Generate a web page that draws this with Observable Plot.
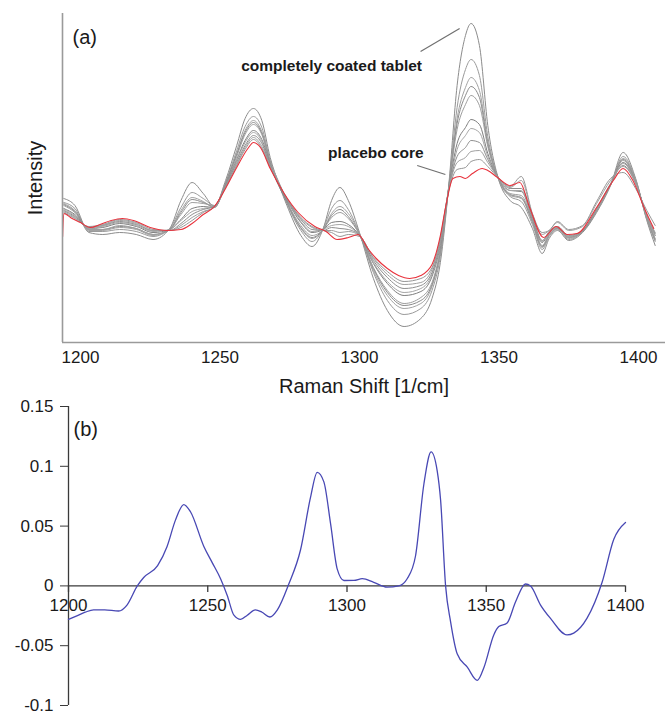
<!DOCTYPE html>
<html><head><meta charset="utf-8">
<script src="https://cdn.jsdelivr.net/npm/d3@7"></script>
<script src="https://cdn.jsdelivr.net/npm/@observablehq/plot@0.6"></script>
<style>body{margin:0;background:#fff} #chart svg{display:block}</style>
</head><body><div id="chart"></div>
<script>
// ---- Panel (a): Raman spectra (arbitrary intensity units) ----
const shiftGrid = [1194,1198,1203,1208,1214,1220,1226,1232,1236,1240,1244,1248,1252,1256,1259,1262,1265,1268,1271,1274,1279,1283,1287,1290,1293,1296,1300,1305,1310,1316,1322,1326,1329,1332,1335,1338,1340,1343,1346,1350,1354,1358,1362,1365.5,1368,1371,1375,1380,1385,1390,1394.5,1399,1403,1406];
const spectrum1 = [152,145,118,116,118,116,111,122,150,168,157,144,170,205,232,242,230,193,167,145,115,104,122,150,163,150,118,72,40,24,32,52,88,165,265,315,327,305,225,170,150,143,122,97,112,120,110,118,138,165,198,172,130,105];
const spectrum2 = [148,142,119,119,121,119,114,122,143,158,152,145,168,200,224,234,223,190,168,147,120,109,122,142,150,141,117,78,50,36,42,60,94,164,243,281,291,275,214,170,154,149,126,101,114,121,111,119,139,165,194,171,131,109];
const spectrum3 = [147,140,120,120,123,121,115,121,140,153,149,143,167,197,220,230,219,189,166,148,122,112,121,137,144,137,117,80,55,42,47,64,98,163,232,263,273,260,209,171,155,152,128,103,115,122,112,119,140,166,192,170,132,110];
const spectrum4 = [146,139,121,121,124,122,116,121,138,151,148,144,167,196,218,228,217,188,167,148,123,113,121,135,141,134,116,82,58,45,50,66,99,163,227,255,264,253,206,171,156,153,129,104,116,122,113,119,140,166,191,169,133,111];
const spectrum5 = [145,138,121,121,125,122,116,121,136,148,147,145,166,194,216,226,216,188,169,149,125,115,121,133,138,132,116,83,60,47,53,68,101,163,221,246,255,245,204,171,157,155,130,105,116,122,113,119,140,166,190,169,133,112];
const spectrum6 = [142,136,122,123,127,124,118,121,131,142,144,143,165,191,210,220,211,186,165,150,128,118,121,128,129,126,115,87,67,55,59,74,105,162,207,223,231,226,197,171,160,159,132,108,118,123,114,120,141,166,188,168,134,115];
const spectrum7 = [141,135,122,124,128,125,119,121,130,139,142,144,164,190,208,218,209,185,167,151,129,119,121,125,126,124,115,88,69,58,62,76,107,161,201,215,222,218,194,171,160,160,133,109,118,123,114,120,141,166,187,168,134,115];
const spectrum8 = [140,134,123,125,129,126,120,120,127,136,141,144,164,188,205,215,207,184,166,151,131,121,120,123,122,121,115,90,73,62,65,78,109,161,194,203,210,208,191,172,162,162,134,110,119,124,115,120,142,167,185,167,135,117];
const spectrum9 = [139,133,123,125,130,127,120,120,125,133,139,143,163,186,203,213,204,184,168,152,132,123,120,120,118,119,115,92,76,66,68,81,111,161,188,193,199,200,188,172,163,170,136,116,120,128,120,124,147,170,184,167,135,118];
const spectrum10 = [138,132,124,126,131,128,121,120,123,130,138,144,163,185,201,211,202,183,167,152,133,124,120,118,114,116,114,93,79,69,72,83,113,160,181,183,189,191,184,172,164,174,137,118,120,129,121,125,149,172,178,162,140,125];

const placeboShift = [1193.6,1194,1197,1200,1203.5,1207,1211,1215,1219,1225,1231,1236,1240,1244,1248,1252,1256,1260,1262,1264.5,1268,1273,1278,1284,1288,1292,1296,1299.5,1303,1306,1310,1314,1318,1322,1326,1329,1331,1333.5,1336,1338,1340.5,1344,1346,1349.5,1354,1357.5,1361,1366,1370.5,1374.5,1378,1385,1391,1394.5,1398,1402,1405.5];
const placeboCore = [114,137,132,128,123,126,130,132,130,123,120,121,127,136,144,162,183,202,208,203,182,157,138,124,119,111,113,116,102,92,82,75,72,75,86,115,145,172,174,172,177,182,180,173,165,168,143,113,124,116,117,143,170,182,170,143,122];

const topTicks = [1200,1250,1300,1350,1400];
const notes = [
  {shift: 1290, intensity: 280, label: "completely coated tablet"},
  {shift: 1305.9, intensity: 193, label: "placebo core"}
];
const leaders = [
  {x1: 1321.9, y1: 299, x2: 1335.9, y2: 322},
  {x1: 1320.7, y1: 185, x2: 1330.8, y2: 176}
];

// ---- Panel (b) ----
const diffShift = [1200,1203,1206,1209,1213,1218,1221,1224.7,1227,1232,1235.4,1238.4,1241.4,1243.8,1248.6,1251.6,1254.6,1257,1259.4,1261.8,1264.2,1267.1,1269.5,1272.3,1275,1279.1,1283.3,1286.9,1289.3,1291.7,1294.1,1296.5,1298.9,1302.5,1305.5,1309.6,1314.4,1318.6,1321.6,1324.6,1327.6,1330.2,1332.4,1333.6,1335.4,1337.2,1339.6,1343.2,1346.8,1349.2,1352.7,1354.5,1357.5,1360.5,1364.1,1365.9,1369.5,1373,1379,1381.4,1386.2,1391.6,1395.8,1400];
const diffValue = [-0.028,-0.025,-0.022,-0.020,-0.020,-0.021,-0.016,0,0.007,0.017,0.033,0.055,0.068,0.062,0.033,0.0195,0.006,-0.008,-0.0245,-0.028,-0.0245,-0.020,-0.022,-0.026,-0.020,0.0016,0.030,0.074,0.095,0.087,0.052,0.014,0.0045,0.0046,0.006,0.003,-0.001,0,0.006,0.025,0.085,0.112,0.096,0.072,0,-0.030,-0.057,-0.068,-0.079,-0.068,-0.041,-0.034,-0.031,-0.0135,0.0016,0,-0.016,-0.027,-0.041,-0.0395,-0.027,0.003,0.039,0.053];
const bottomXTicks = [1200,1250,1300,1350,1400];
const bottomYTicks = [0.15,0.1,0.05,0,-0.05,-0.1];
const bottomYLabels = ["0.15","0.1","0.05","0","-0.05","-0.1"];

const graySpectra = [spectrum1,spectrum2,spectrum3,spectrum4,spectrum5,spectrum6,spectrum7,spectrum8,spectrum9,spectrum10];
const grayColors = ["#8c8c8c","#9a9a9a","#a2a2a2","#8a8a8a","#9e9e9e","#7e7e7e","#a6a6a6","#8e8e8e","#a0a0a0","#969696"];
const font = "Arial, 'Liberation Sans', Helvetica, sans-serif";
const xDomA = [1193.55, 1409.7];
const yDomA = [8, 337];

const plotA = Plot.plot({
  width: 665, height: 400,
  marginLeft: 62, marginRight: 0, marginTop: 13, marginBottom: 58,
  x: {domain: xDomA, axis: null},
  y: {domain: yDomA, axis: null},
  style: {fontFamily: font, fontSize: "17px", color: "#1a1a1a", background: "white", overflow: "visible"},
  marks: [
    ...graySpectra.map((s, k) => Plot.line(shiftGrid, {x: d => d, y: (d, i) => s[i], stroke: grayColors[k], strokeWidth: 1, curve: "monotone-x"})),
    Plot.line(placeboShift, {x: d => d, y: (d, i) => placeboCore[i], stroke: "#e8323c", strokeWidth: 1.1, curve: "monotone-x"}),
    Plot.ruleX([xDomA[0]], {stroke: "#9a9a9a", strokeWidth: 1.6}),
    Plot.ruleY([yDomA[0]], {stroke: "#9a9a9a", strokeWidth: 1.6}),
    Plot.axisX(topTicks, {tickSize: 0, tickPadding: 8, fontSize: 17, tickFormat: d => String(d), label: null}),
    Plot.text(["Raman Shift [1/cm]"], {frameAnchor: "bottom", dy: 50, fontSize: 20}),
    Plot.text(["Intensity"], {frameAnchor: "left", dx: -27, rotate: -90, textAnchor: "middle", fontSize: 20}),
    Plot.text(["(a)"], {frameAnchor: "top-left", dx: 10, dy: 16, textAnchor: "start", fontSize: 20}),
    Plot.text(notes, {x: "shift", y: "intensity", text: "label", fontWeight: "bold", fontSize: 15.5, lineAnchor: "bottom"}),
    Plot.link(leaders, {x1: "x1", y1: "y1", x2: "x2", y2: "y2", stroke: "#707070", strokeWidth: 1.2})
  ]
});

const plotB = Plot.plot({
  width: 665, height: 316,
  marginLeft: 68, marginRight: 40, marginTop: 6, marginBottom: 11,
  x: {domain: [1200, 1400], axis: null},
  y: {domain: [-0.1, 0.15], axis: null},
  style: {fontFamily: font, fontSize: "17px", color: "#1a1a1a", background: "white", overflow: "visible"},
  marks: [
    Plot.ruleY([0], {stroke: "#3a3a3a", strokeWidth: 1.3}),
    Plot.ruleX([1200], {stroke: "#3a3a3a", strokeWidth: 1.3}),
    Plot.ruleX(bottomXTicks, {x: d => d, y1: 0, y2: -0.0055, stroke: "#3a3a3a", strokeWidth: 1.3}),
    Plot.text(bottomXTicks, {x: d => d, y: 0, dy: 20, text: d => String(d), fontSize: 17}),
    Plot.axisY(bottomYTicks, {tickSize: 8, tickPadding: 7, fontSize: 17, stroke: "#3a3a3a",
      tickFormat: d => bottomYLabels[bottomYTicks.indexOf(d)], label: null}),
    Plot.line(diffShift, {x: d => d, y: (d, i) => diffValue[i], stroke: "#4848b4", strokeWidth: 1.3, curve: "monotone-x"}),
    Plot.text(["(b)"], {frameAnchor: "top-left", dx: 5, dy: 15, textAnchor: "start", fontSize: 20})
  ]
});

const chart = document.getElementById("chart");
chart.appendChild(plotA);
chart.appendChild(plotB);
</script>
</body></html>
